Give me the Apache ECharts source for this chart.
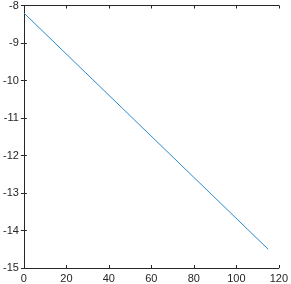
<!DOCTYPE html>
<html><head><meta charset="utf-8">
<script src="https://cdn.jsdelivr.net/npm/echarts@6/dist/echarts.min.js"></script>
<style>html,body{margin:0;padding:0;background:#fff}#c{width:291px;height:284px}</style>
</head><body><div id="c"></div>
<script>
var xValues = [0, 115];
var yValues = [-8.2, -14.5];
var xTicks = [0, 20, 40, 60, 80, 100, 120];
var yTicks = [-15, -14, -13, -12, -11, -10, -9, -8];

var chart = echarts.init(document.getElementById('c'), null, {renderer: 'canvas'});
var axisLine = {show: true, lineStyle: {color: '#262626', width: 1}};
var tick = {show: true, inside: true, length: 3, lineStyle: {color: '#262626'}};
var lbl = {color: '#262626', fontFamily: 'Liberation Sans, Arial, sans-serif', fontSize: 11};
var option = {
  animation: false,
  grid: {left: 19, right: 8, top: 3, bottom: 16, containLabel: false},
  xAxis: [
    {type: 'value', min: 0, max: 120, interval: 20, position: 'bottom',
     axisLine: axisLine, axisTick: tick, splitLine: {show: false},
     axisLabel: Object.assign({margin: 5}, lbl)},
    {type: 'value', min: 0, max: 120, interval: 20, position: 'top',
     axisLine: axisLine, axisTick: tick, splitLine: {show: false}, axisLabel: {show: false}}
  ],
  yAxis: [
    {type: 'value', min: -15, max: -8, interval: 1, position: 'left',
     axisLine: axisLine, axisTick: tick, splitLine: {show: false},
     axisLabel: Object.assign({margin: 5}, lbl)},
    {type: 'value', min: -15, max: -8, interval: 1, position: 'right',
     axisLine: axisLine, axisTick: tick, splitLine: {show: false}, axisLabel: {show: false}}
  ],
  series: [{
    type: 'line', showSymbol: false, symbol: 'none',
    data: xValues.map(function (x, i) { return [x, yValues[i]]; }),
    lineStyle: {color: '#2a8ad0', width: 1}
  }]
};
chart.setOption(option);
</script></body></html>
